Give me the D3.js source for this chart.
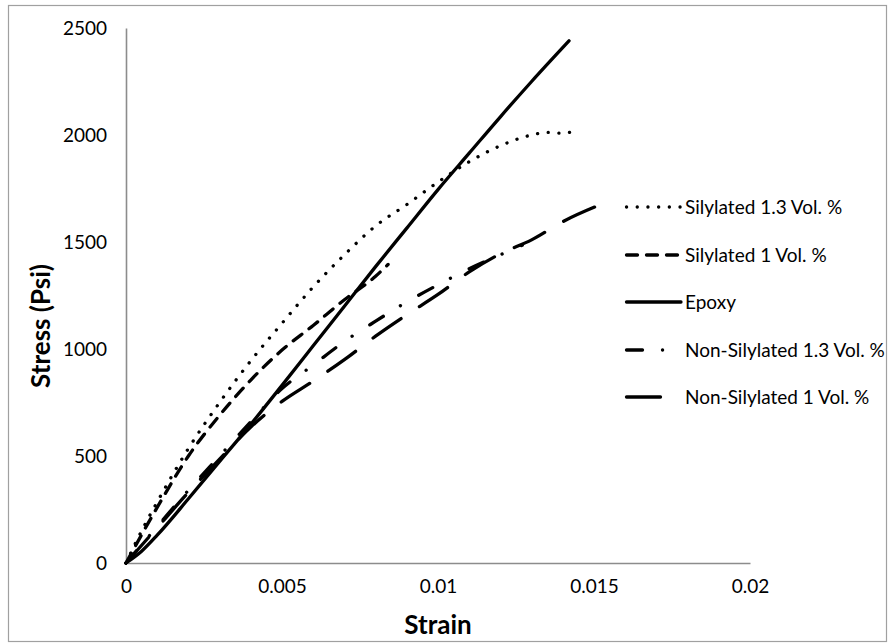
<!DOCTYPE html>
<html>
<head>
<meta charset="utf-8">
<script src="https://cdn.jsdelivr.net/npm/d3@7"></script>
<style>
    body { margin: 0; background: #fff; }
    svg { display: block; font-family: Lato, "Open Sans", sans-serif; }
</style>
</head>
<body>
<svg id="chart" width="889" height="643"></svg>
<script>
// Values (strain, stress in psi)
const sil13Strain = [0, 0.0005, 0.001, 0.002, 0.003, 0.004, 0.005, 0.006, 0.007, 0.008, 0.009, 0.01, 0.011, 0.012, 0.013, 0.0135, 0.014, 0.0143];
const sil13Stress = [0, 150, 285, 535, 750, 945, 1120, 1290, 1440, 1575, 1675, 1780, 1875, 1950, 2000, 2012, 2008, 2015];

const sil1Strain = [0, 0.001, 0.002, 0.003, 0.004, 0.005, 0.006, 0.007, 0.008, 0.0084];
const sil1Stress = [0, 260, 500, 690, 855, 995, 1110, 1230, 1340, 1395];

const epoxyStrain = [0, 0.0005, 0.001, 0.002, 0.003, 0.004, 0.005, 0.006, 0.007, 0.008, 0.009, 0.01, 0.011, 0.012, 0.013, 0.0142];
const epoxyStress = [0, 55, 130, 300, 475, 648, 830, 1015, 1200, 1385, 1565, 1745, 1915, 2085, 2250, 2440];

const nonSil13Strain = [0, 0.001, 0.002, 0.003, 0.004, 0.005, 0.006, 0.007, 0.008, 0.009, 0.01, 0.011, 0.012, 0.0127];
const nonSil13Stress = [0, 170, 340, 500, 660, 815, 925, 1035, 1130, 1220, 1300, 1375, 1440, 1485];

const nonSil1Strain = [0, 0.001, 0.002, 0.003, 0.004, 0.005, 0.006, 0.007, 0.008, 0.009, 0.01, 0.011, 0.012, 0.013, 0.014, 0.0153];
const nonSil1Stress = [0, 165, 330, 485, 635, 755, 850, 950, 1060, 1160, 1255, 1360, 1445, 1510, 1595, 1680];

const seriesNames = ["Silylated 1.3 Vol. %", "Silylated 1 Vol. %", "Epoxy", "Non-Silylated 1.3 Vol. %", "Non-Silylated 1 Vol. %"];
const xTicks = [0, 0.005, 0.01, 0.015, 0.02];
const yTicks = [0, 500, 1000, 1500, 2000, 2500];

// line styles for each series (same order as names)
const dashes = ["0.1 10.6", "11 9", null, "16 20 0.1 21", "34 22"];

const series = [
    [sil13Strain, sil13Stress],
    [sil1Strain, sil1Stress],
    [epoxyStrain, epoxyStress],
    [nonSil13Strain, nonSil13Stress],
    [nonSil1Strain, nonSil1Stress]
].map((s, i) => ({
    name: seriesNames[i],
    dash: dashes[i],
    points: s[0].map((x, j) => ({ x: x, y: s[1][j] }))
}));

const svg = d3.select("#chart");

// outer chart border
svg.append("rect")
    .attr("x", 8.5).attr("y", 5.5)
    .attr("width", 878).attr("height", 636)
    .attr("fill", "none")
    .attr("stroke", "#a0a0a0")
    .attr("stroke-width", 1.2);

const xScale = d3.scaleLinear().domain([0, 0.02]).range([126, 750]);
const yScale = d3.scaleLinear().domain([0, 2500]).range([563, 28]);

// y axis
const yAxis = svg.append("g")
    .attr("transform", "translate(126,0)")
    .call(d3.axisLeft(yScale).tickValues(yTicks).tickSize(0).tickPadding(19).tickFormat(d3.format("d")));

// x axis
const xAxis = svg.append("g")
    .attr("transform", "translate(0,563)")
    .call(d3.axisBottom(xScale).tickValues(xTicks).tickSize(0).tickPadding(17).tickFormat(d => d === 0 ? "0" : String(d)));

[xAxis, yAxis].forEach(ax => {
    ax.select(".domain").attr("stroke", "#8c8c8c").attr("stroke-width", 1.6);
    ax.selectAll("text")
        .attr("fill", "#000")
        .style("font-family", "Lato, 'Open Sans', sans-serif")
        .style("font-size", "19px");
});

// axis titles
svg.append("text")
    .attr("x", 438)
    .attr("y", 634)
    .attr("text-anchor", "middle")
    .style("font-size", "26px")
    .style("font-weight", "bold")
    .text("Strain");

svg.append("text")
    .attr("transform", "translate(50,326) rotate(-90)")
    .attr("text-anchor", "middle")
    .style("font-size", "26px")
    .style("font-weight", "bold")
    .text("Stress (Psi)");

// curves
const line = d3.line()
    .x(d => xScale(d.x))
    .y(d => yScale(d.y))
    .curve(d3.curveMonotoneX);

series.forEach(s => {
    svg.append("path")
        .datum(s.points)
        .attr("fill", "none")
        .attr("stroke", "#000")
        .attr("stroke-width", 3.3)
        .attr("stroke-linecap", "round")
        .attr("stroke-linejoin", "round")
        .attr("stroke-dasharray", s.dash)
        .attr("d", line);
});

// legend
const legendY = [207, 255, 302, 350, 397];
const legend = svg.append("g").attr("class", "legend");

series.forEach((s, i) => {
    legend.append("line")
        .attr("x1", 626.5).attr("x2", 681)
        .attr("y1", legendY[i]).attr("y2", legendY[i])
        .attr("stroke", "#000")
        .attr("stroke-width", 3.3)
        .attr("stroke-linecap", "round")
        .attr("stroke-dasharray", s.dash);

    legend.append("text")
        .attr("x", 685)
        .attr("y", legendY[i])
        .attr("dy", "0.35em")
        .style("font-size", "19px")
        .text(s.name);
});
</script>
</body>
</html>
